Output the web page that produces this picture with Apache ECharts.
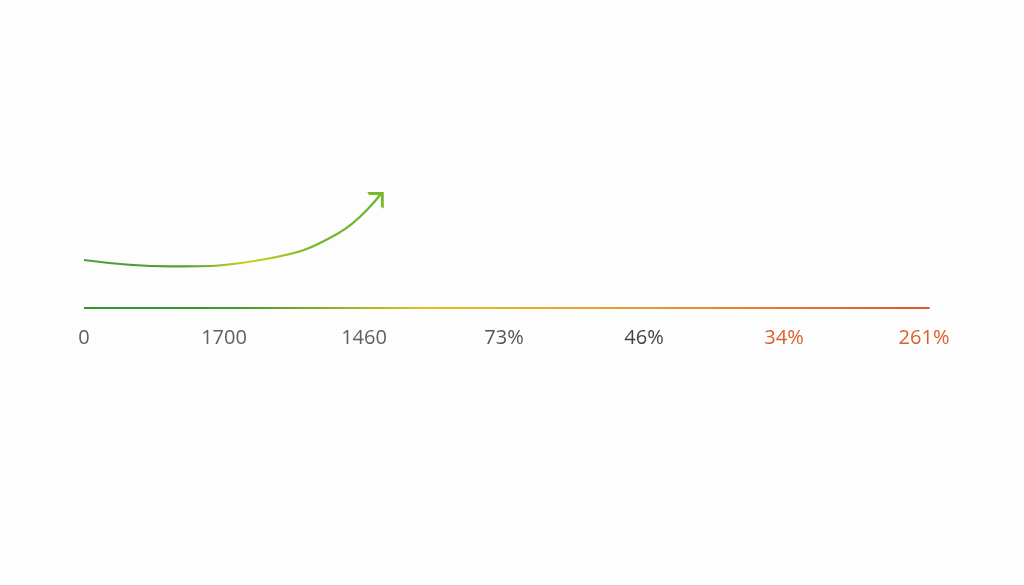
<!DOCTYPE html>
<html>
<head>
<meta charset="utf-8">
<script src="https://cdn.jsdelivr.net/npm/echarts@6/dist/echarts.min.js"></script>
<style>
html,body{margin:0;padding:0;background:#fdfdfd;}
#main{width:1024px;height:585px;}
</style>
</head>
<body>
<div id="main"></div>
<script>
// 刻度标签
var tickLabels = ['0', '1700', '1460', '73%', '46%', '34%', '261%'];
var tickColors = ['#606060', '#606060', '#606060', '#555555', '#444444', '#d9612c', '#d9612c'];
// 弧形箭头
var curveX = [0.0, 0.62, 1.3, 1.82, 2.12];
var curveY = [24, 20.8, 24.5, 37.5, 57];
// 底部渐变线
var baseX = [0, 1, 2, 3, 4, 5, 6, 6.04];
var baseY = [0, 0, 0, 0, 0, 0, 0, 0];

var curveData = curveX.map(function (x, i) {
    return [x, curveY[i]];
});
// 最后一个点画箭头
curveData[curveData.length - 1] = {
    value: [curveX[curveX.length - 1], curveY[curveY.length - 1]],
    symbol: 'path://M0,10 L10,0 L20,10',
    symbolSize: [20, 10],
    symbolRotate: -45,
    symbolOffset: [-2, 3],
    itemStyle: {color: 'none', borderColor: '#78b829', borderWidth: 2.6}
};
var baseData = baseX.map(function (x, i) {
    return [x, baseY[i]];
});

var myChart = echarts.init(document.getElementById('main'));
var option = {
    backgroundColor: '#fdfdfd',
    animation: false,
    grid: {left: 84, right: 93, top: 108, bottom: 277},
    xAxis: {
        type: 'value',
        min: 0,
        max: 6.05,
        interval: 1,
        axisLine: {show: false},
        axisTick: {show: false},
        splitLine: {show: false},
        axisLabel: {
            margin: 20,
            fontSize: 20,
            fontFamily: 'Open Sans',
            showMaxLabel: false,
            formatter: function (v) {
                return Number.isInteger(v) ? tickLabels[v] : '';
            },
            color: function (v) {
                return tickColors[Math.round(v)] || '#555';
            }
        }
    },
    yAxis: {
        type: 'value',
        min: 0,
        max: 100,
        show: false
    },
    series: [{
        type: 'line',
        data: baseData,
        symbol: 'none',
        clip: false,
        lineStyle: {
            width: 2.2,
            color: new echarts.graphic.LinearGradient(0, 0, 1, 0, [
                {offset: 0, color: '#2f962f'},
                {offset: 0.18, color: '#3c9c2c'},
                {offset: 0.4, color: '#e0c020'},
                {offset: 0.65, color: '#ec9a30'},
                {offset: 1, color: '#dd5530'}
            ])
        }
    }, {
        type: 'line',
        data: curveData,
        smooth: 0.45,
        symbol: 'none',
        showSymbol: true,
        clip: false,
        lineStyle: {
            width: 2.2,
            color: new echarts.graphic.LinearGradient(0, 0, 1, 0, [
                {offset: 0, color: '#4f9e3a'},
                {offset: 0.35, color: '#4fa032'},
                {offset: 0.55, color: '#d0d020'},
                {offset: 0.75, color: '#7ab828'},
                {offset: 1, color: '#6ab42a'}
            ])
        }
    }]
};
myChart.setOption(option);
</script>
</body>
</html>
